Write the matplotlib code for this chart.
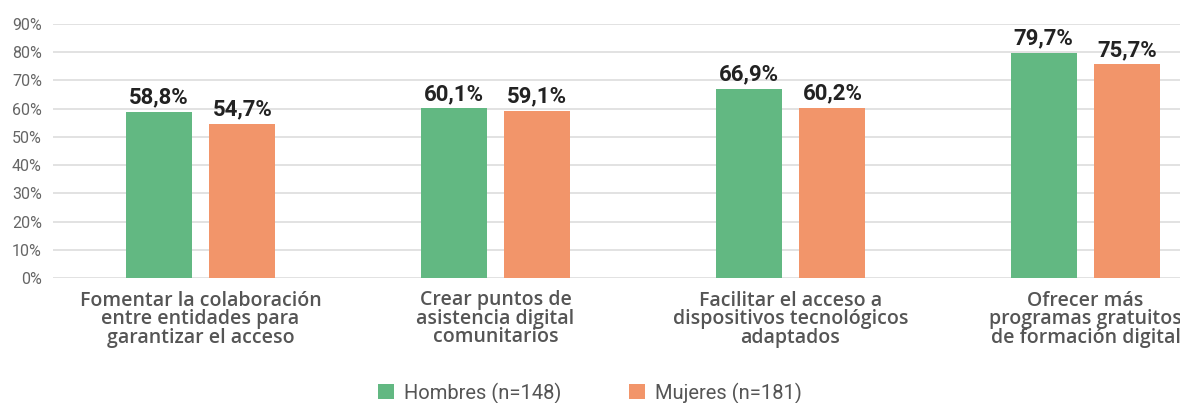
import matplotlib.pyplot as plt
import numpy as np

categories = [
    'Fomentar la colaboración\nentre entidades para\ngarantizar el acceso',
    'Crear puntos de\nasistencia digital\ncomunitarios',
    'Facilitar el acceso a\ndispositivos tecnológicos\nadaptados',
    'Ofrecer más\nprogramas gratuitos\nde formación digital',
]
hombres = [58.8, 60.1, 66.9, 79.7]
mujeres = [54.7, 59.1, 60.2, 75.7]
series_names = ['Hombres (n=148)', 'Mujeres (n=181)']

green = '#62B882'
orange = '#F2956A'

plt.rcParams['font.family'] = ['Roboto', 'DejaVu Sans']

fig = plt.figure(figsize=(11.8, 4.03), dpi=100)
# axes runs past the right edge, like the original crop
ax = fig.add_axes([53 / 1180, 125 / 403, 1180 / 1180, 254 / 403])

x = np.arange(len(categories))
w = 0.224
off = 0.142
b1 = ax.bar(x - off, hombres, w, color=green, label=series_names[0], zorder=3)
b2 = ax.bar(x + off, mujeres, w, color=orange, label=series_names[1], zorder=3)

for bars, vals in [(b1, hombres), (b2, mujeres)]:
    for r, v in zip(bars, vals):
        ax.text(r.get_x() + r.get_width() / 2, v + 1.2, f'{v:.1f}%'.replace('.', ','),
                ha='center', va='bottom', fontsize=16, fontweight='bold', color='#222222')

ax.set_xlim(-0.5, 3.5)
ax.set_ylim(0, 90)
ax.set_yticks(np.arange(0, 91, 10))
ax.set_yticklabels([f'{t}%' for t in range(0, 91, 10)])
ax.yaxis.grid(True, color='#DDDDDD', linewidth=1.2, zorder=0)
ax.set_xticks(x)
ax.set_xticklabels(categories, fontsize=14, color='#555555', fontweight='semibold',
                   linespacing=0.9, family=['Open Sans', 'DejaVu Sans'])
ax.tick_params(axis='x', length=0, pad=9)
ax.tick_params(axis='y', length=0, pad=8, labelsize=11.5, labelcolor='#666666')
for s in ax.spines.values():
    s.set_visible(False)

fig.legend(handles=[b1, b2], labels=series_names, loc='center', bbox_to_anchor=(0.5, 10 / 403),
           ncol=2, frameon=False, fontsize=14.5, labelcolor='#555555', handlelength=0.75,
           handleheight=0.75, columnspacing=3.4, handletextpad=0.5)

fig.savefig('out.png', dpi=100)
